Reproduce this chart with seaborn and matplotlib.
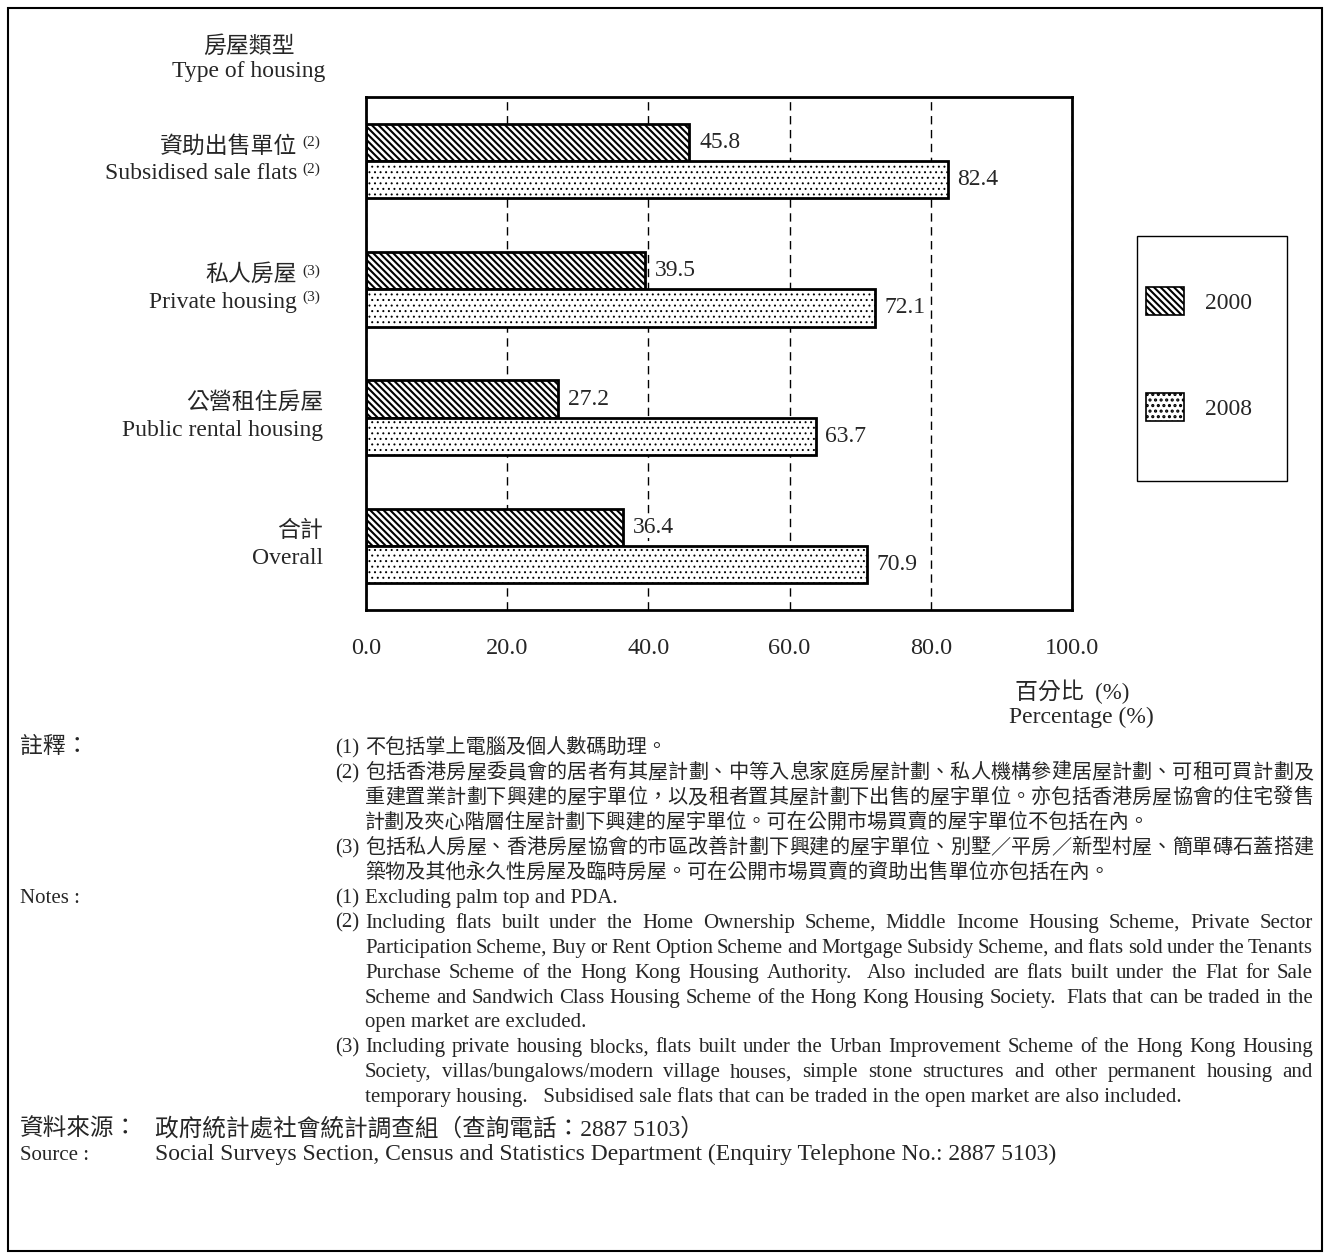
import matplotlib
matplotlib.use("Agg")
import matplotlib.pyplot as plt
import matplotlib.transforms as mtransforms
from matplotlib.patches import Rectangle
import pandas as pd
import seaborn as sns

# ---- data -------------------------------------------------------------
categories_zh = ["資助出售單位", "私人房屋", "公營租住房屋", "合計"]
categories_en = ["Subsidised sale flats", "Private housing", "Public rental housing", "Overall"]
category_notes = ["(2)", "(3)", "", ""]
years = ["2000", "2008"]
values_2000 = [45.8, 39.5, 27.2, 36.4]
values_2008 = [82.4, 72.1, 63.7, 70.9]
x_ticks = [0, 20, 40, 60, 80, 100]
x_tick_labels = ["0.0", "20.0", "40.0", "60.0", "80.0", "100.0"]

notes_zh = [
    ("(1)", ["不包括掌上電腦及個人數碼助理。"]),
    ("(2)", ["包括香港房屋委員會的居者有其屋計劃、中等入息家庭房屋計劃、私人機構參建居屋計劃、可租可買計劃及",
             "重建置業計劃下興建的屋宇單位，以及租者置其屋計劃下出售的屋宇單位。亦包括香港房屋協會的住宅發售",
             "計劃及夾心階層住屋計劃下興建的屋宇單位。可在公開市場買賣的屋宇單位不包括在內。"]),
    ("(3)", ["包括私人房屋、香港房屋協會的市區改善計劃下興建的屋宇單位、別墅／平房／新型村屋、簡單磚石蓋搭建",
             "築物及其他永久性房屋及臨時房屋。可在公開市場買賣的資助出售單位亦包括在內。"]),
]
notes_en = [
    ("(1)", ["Excluding palm top and PDA."]),
    ("(2)", ["Including flats built under the Home Ownership Scheme, Middle Income Housing Scheme, Private Sector",
             "Participation Scheme, Buy or Rent Option Scheme and Mortgage Subsidy Scheme, and flats sold under the Tenants",
             "Purchase Scheme of the Hong Kong Housing Authority.  Also included are flats built under the Flat for Sale",
             "Scheme and Sandwich Class Housing Scheme of the Hong Kong Housing Society.  Flats that can be traded in the",
             "open market are excluded."]),
    ("(3)", ["Including private housing blocks, flats built under the Urban Improvement Scheme of the Hong Kong Housing",
             "Society, villas/bungalows/modern village houses, simple stone structures and other permanent housing and",
             "temporary housing.   Subsidised sale flats that can be traded in the open market are also included."]),
]
source_zh = "政府統計處社會統計調查組（查詢電話：2887 5103）"
source_en = "Social Surveys Section, Census and Statistics Department (Enquiry Telephone No.: 2887 5103)"

# ---- style ------------------------------------------------------------
sns.set_theme(style="white")
FAM = ["Liberation Serif", "Noto Sans CJK TC"]
plt.rcParams["font.family"] = FAM
plt.rcParams["hatch.linewidth"] = 1.5
plt.rcParams["hatch.color"] = "black"

W, H = 1330, 1259
fig = plt.figure(figsize=(W / 100, H / 100), dpi=100)
fig.patch.set_facecolor("white")


def fx(px):
    return px / W


def fy(py):
    return 1 - py / H


EN_CHART = 17
ZH_CHART = 16.5

# ---- bar chart --------------------------------------------------------
ax = fig.add_axes([fx(366), fy(610), fx(1072) - fx(366), fy(97) - fy(610)])

df = pd.DataFrame({
    "category": categories_en * 2,
    "year": [years[0]] * 4 + [years[1]] * 4,
    "value": values_2000 + values_2008,
})
sns.barplot(data=df, y="category", x="value", hue="year", orient="h",
            order=categories_en, hue_order=years, width=0.58,
            palette=["white", "white"], saturation=1, edgecolor="black",
            linewidth=2, legend=False, ax=ax)

hatches = ["\\\\\\\\\\", "..."]
hatch_lw = [1.5, 0.7]
for cont, hatch, hlw in zip(ax.containers, hatches, hatch_lw):
    for bar in cont.patches:
        bar.set_hatch(hatch)
        bar.set_edgecolor("black")
        if hasattr(bar, "set_hatch_linewidth"):
            bar.set_hatch_linewidth(hlw)
    for t in ax.bar_label(cont, fmt="%.1f", padding=7, fontsize=EN_CHART):
        t.set_bbox(dict(facecolor="white", edgecolor="none", pad=0.5))

ax.set_xlim(0, 100)
ax.set_ylim(len(categories_en) - 0.5, -0.5)
ax.set_xticks(x_ticks)
ax.set_xticklabels(x_tick_labels, fontsize=17.5)
ax.tick_params(axis="x", length=0, pad=20)
ax.set_yticks(range(len(categories_en)))
ax.set_yticklabels([])
ax.tick_params(axis="y", length=0)
ax.set_xlabel("")
ax.set_ylabel("")
ax.set_axisbelow(True)
ax.xaxis.grid(True, color="black", linewidth=1, linestyle=(0, (6, 4)))
ax.yaxis.grid(False)
for sp in ax.spines.values():
    sp.set_visible(True)
    sp.set_color("black")
    sp.set_linewidth(2)

# category labels to the left of the axes
lab_tr = mtransforms.blended_transform_factory(fig.transFigure, ax.transData)
for i, (zh, en, nt) in enumerate(zip(categories_zh, categories_en, category_notes)):
    right = 297 if nt else 323
    ax.text(fx(right), i - 0.11, zh, transform=lab_tr, ha="right", va="center", fontsize=ZH_CHART)
    ax.text(fx(right), i + 0.10, en, transform=lab_tr, ha="right", va="center", fontsize=EN_CHART)
    if nt:
        ax.text(fx(302), i - 0.145, nt, transform=lab_tr, ha="left", va="center", fontsize=11)
        ax.text(fx(302), i + 0.065, nt, transform=lab_tr, ha="left", va="center", fontsize=11)

fig.text(fx(249), fy(47), "房屋類型", ha="center", va="center", fontsize=ZH_CHART)
fig.text(fx(249), fy(71), "Type of housing", ha="center", va="center", fontsize=EN_CHART)
fig.text(fx(1072), fy(692), "百分比  (%)", ha="center", va="center", fontsize=ZH_CHART)
fig.text(fx(1081), fy(717), "Percentage (%)", ha="center", va="center", fontsize=EN_CHART)

# legend
handles = [cont.patches[0] for cont in ax.containers]
leg = fig.legend(handles, years, loc="upper left", bbox_to_anchor=(fx(1146), fy(287)),
                 frameon=False, fontsize=EN_CHART, handlelength=1.6, handleheight=1.45,
                 labelspacing=3.3, handletextpad=0.9, borderpad=0, borderaxespad=0)
for p in leg.get_patches():
    p.set_linewidth(1.2)
fig.patches.append(Rectangle((fx(1137), fy(481)), fx(1287) - fx(1137), fy(236) - fy(481),
                             transform=fig.transFigure, fill=False, edgecolor="black",
                             linewidth=1, zorder=5))

# outer frame
fig.patches.append(Rectangle((fx(8), fy(1251)), fx(1322) - fx(8), fy(8) - fy(1251),
                             transform=fig.transFigure, fill=False, edgecolor="black",
                             linewidth=1.5, zorder=5))

# ---- notes ------------------------------------------------------------
renderer = fig.canvas.get_renderer()


def put_line(x0, x1, y, s, size, justify, cjk=False):
    if not justify:
        fig.text(fx(x0), fy(y), s, fontsize=size, ha="left", va="baseline")
        return
    tokens = list(s) if cjk else s.split(" ")
    arts, widths = [], []
    for tok in tokens:
        t = fig.text(fx(x0), fy(y), tok, fontsize=size, ha="left", va="baseline")
        widths.append(t.get_window_extent(renderer).width if tok else 0.0)
        arts.append(t)
    gap = (x1 - x0 - sum(widths)) / max(len(tokens) - 1, 1)
    x = x0
    for t, w in zip(arts, widths):
        t.set_x(fx(x))
        x += w + gap


ZH_SIZE = 14.5
EN_SIZE = 15
SRC_SIZE = 17
BASE = 7
LEFT_LABEL, NUM_X, BODY_X, RIGHT_X = 20, 335, 365, 1313

y = 746
put_line(LEFT_LABEL, 0, y + BASE, "註釋：", 16.5, False)
for num, lines in notes_zh:
    put_line(NUM_X, 0, y + BASE, num, EN_SIZE, False)
    for k, line in enumerate(lines):
        put_line(BODY_X, RIGHT_X, y + BASE, line, ZH_SIZE, k < len(lines) - 1, cjk=True)
        y += 25

put_line(LEFT_LABEL, 0, y + BASE, "Notes :", EN_SIZE, False)
for num, lines in notes_en:
    put_line(NUM_X, 0, y + BASE, num, EN_SIZE, False)
    for k, line in enumerate(lines):
        put_line(BODY_X, RIGHT_X, y + BASE, line, EN_SIZE, k < len(lines) - 1)
        y += 24.9

y = 1128
put_line(LEFT_LABEL, 0, y + BASE, "資料來源：", SRC_SIZE, False)
put_line(155, 0, y + BASE, source_zh, SRC_SIZE, False)
y = 1153
put_line(LEFT_LABEL, 0, y + BASE, "Source :", EN_SIZE, False)
put_line(155, 0, y + BASE, source_en, SRC_SIZE, False)

fig.savefig("out.png", dpi=100, facecolor="white")
